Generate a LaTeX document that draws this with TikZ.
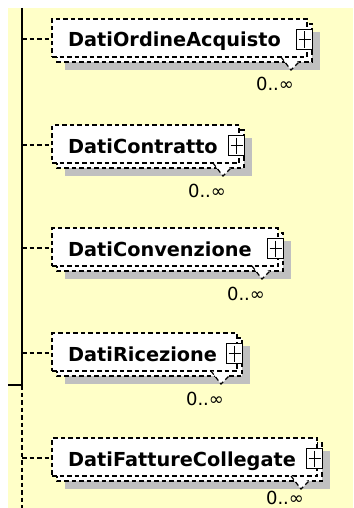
\documentclass[tikz,border=0pt]{standalone}
\usepackage{fontspec}
\setmainfont{DejaVu Sans}
\definecolor{bgyellow}{RGB}{255,255,200}
\definecolor{shadowgray}{RGB}{192,192,192}
\tikzset{
  dsh/.style={line width=1.2pt, dash pattern=on 4.5pt off 3pt},
  backbox/.style={dsh, fill=white},
  frontbox/.style={draw, dsh, fill=white, inner sep=0pt, outer sep=0pt},
  lbl/.style={inner sep=0pt, font=\bfseries\fontsize{19.3}{22}\selectfont},
  card/.style={inner sep=0pt, font=\fontsize{18}{20}\selectfont},
  plusbox/.style={draw, line width=1.2pt, fill=white, inner sep=0pt, minimum width=16pt, minimum height=20pt},
  conn/.style={dsh},
  spine/.style={line width=2pt}
}
\newcommand\xelem[5]{%
  \fill[shadowgray] (65,#2+13) rectangle (#3+13,#2+51);
  \draw[backbox] (57,#2+5) rectangle (#3+5,#2+43);
  \node[frontbox, anchor=north west, minimum width={(#3-52)*1pt}, minimum height=38pt] (#1) at (52,#2) {};
  \fill[white] (#3-26,#2+38) -- (#3-16,#2+51) -- (#3-8,#2+43) -- cycle;
  \draw[dsh] (#3-26,#2+38) -- (#3-16,#2+51) -- (#3-8,#2+43);
  \node[lbl, anchor=base west] (#1t) at (68,#2+28) {#4};
  \node[plusbox, anchor=north west] (#1p) at (#3-11,#2+10) {};
  \draw[line width=1.2pt] ([xshift=2.5pt]#1p.west) -- ([xshift=-2.5pt]#1p.east);
  \draw[line width=1.2pt] ([yshift=-2.5pt]#1p.north) -- ([yshift=2.5pt]#1p.south);
  \node[card, anchor=base] (#1c) at (#3-32,#2+#5) {0..∞};
  \coordinate (#1s) at (22,#2+20);
  \draw[conn] (#1s) -- (#1s -| #1.west);
}
\begin{document}
\begin{tikzpicture}[x=1pt, y=-1pt]
\useasboundingbox (0,0) rectangle (353,508);
\fill[white] (0,0) rectangle (353,508);
\fill[bgyellow] (8,8) rectangle (353,508);
\coordinate (top) at (22,8);
\coordinate (knee) at (22,385);
\coordinate (stub) at (8,385);
\coordinate (bot) at (22,508);
\draw[spine] (top) -- (knee) -- (stub);
\draw[dsh] (knee) -- (bot);
\xelem{oa}{19}{307}{DatiOrdineAcquisto}{72}
\xelem{co}{125}{239}{DatiContratto}{72}
\xelem{cv}{228}{278}{DatiConvenzione}{72}
\xelem{ri}{333}{237}{DatiRicezione}{72}
\xelem{fc}{438}{317}{DatiFattureCollegate}{66}
\end{tikzpicture}
\end{document}
